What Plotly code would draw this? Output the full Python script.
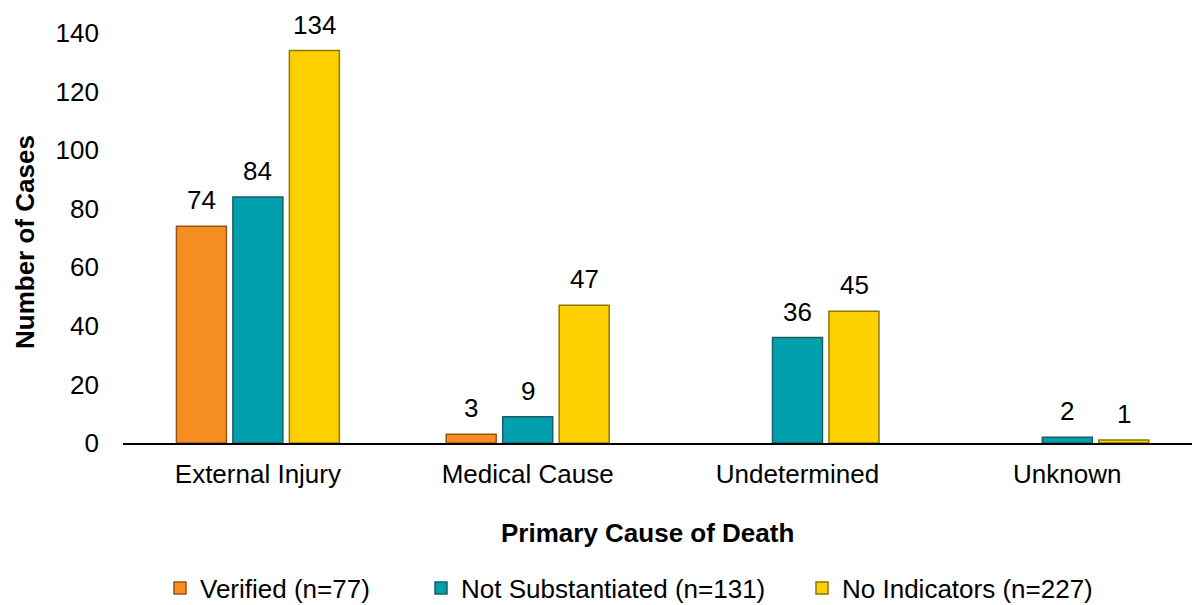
import plotly.graph_objects as go

categories = ["External Injury", "Medical Cause", "Undetermined", "Unknown"]
series_names = ["Verified (n=77)", "Not Substantiated (n=131)", "No Indicators (n=227)"]
verified = [74, 3, None, None]
not_substantiated = [84, 9, 36, 2]
no_indicators = [134, 47, 45, 1]
y_ticks = [0, 20, 40, 60, 80, 100, 120, 140]

series_values = [verified, not_substantiated, no_indicators]
fills = ["#F68D21", "#00A1AD", "#FFD000"]
lines = ["#9A5316", "#1D5C63", "#8C7A00"]

FONT = "Liberation Sans, Arial, sans-serif"
FS = 26

W, H = 1192, 605
ML, MR, MT, MB = 123, 0, 33, 162
cat_px = 269.8
plot_w = W - ML - MR
x_hi = -0.5 + plot_w / cat_px

fig = go.Figure()
for i, (name, vals) in enumerate(zip(series_names, series_values)):
    fig.add_trace(go.Bar(
        x=categories, y=vals, name=name,
        marker=dict(color=fills[i], line=dict(color=lines[i], width=1.5)),
        legend="legend" if i == 0 else f"legend{i+1}",
        cliponaxis=False,
    ))

# data labels above bars
slot_px = 56.5
annotations = []
for i, vals in enumerate(series_values):
    for cat, v in zip(categories, vals):
        if v is None:
            continue
        annotations.append(dict(
            x=cat, y=v, xref="x", yref="y", text=str(v), showarrow=False,
            xanchor="center", yanchor="bottom", xshift=(i - 1) * slot_px, yshift=9,
            font=dict(family=FONT, size=FS, color="#000000"),
        ))

plot_h = H - MT - MB
def px_x(px):
    return (px - ML) / plot_w
def px_y(py):
    return (H - MB - py) / plot_h

annotations.append(dict(
    text="<b>Primary Cause of Death</b>", x=px_x(647), y=px_y(533), xref="paper", yref="paper",
    showarrow=False, xanchor="center", yanchor="middle",
    font=dict(family=FONT, size=FS, color="#000000"),
))
annotations.append(dict(
    text="<b>Number of Cases</b>", x=px_x(25), y=px_y(242), xref="paper", yref="paper",
    showarrow=False, xanchor="center", yanchor="middle", textangle=-90,
    font=dict(family=FONT, size=FS, color="#000000"),
))

legend_common = dict(orientation="h", xanchor="left", yanchor="middle",
                     font=dict(family=FONT, size=FS, color="#000000"),
                     bgcolor="rgba(0,0,0,0)", itemwidth=30, yref="paper")
legend_left_px = [160, 421, 802]
legend_y_px = 588

fig.update_layout(
    width=W, height=H,
    margin=dict(l=ML, r=MR, t=MT, b=MB, pad=0, autoexpand=False),
    paper_bgcolor="white", plot_bgcolor="white",
    font=dict(family=FONT, size=FS, color="#000000"),
    barmode="group", bargap=0.372, bargroupgap=0.115,
    showlegend=True,
    legend=dict(x=px_x(legend_left_px[0]), y=px_y(legend_y_px), **legend_common),
    legend2=dict(x=px_x(legend_left_px[1]), y=px_y(legend_y_px), **legend_common),
    legend3=dict(x=px_x(legend_left_px[2]), y=px_y(legend_y_px), **legend_common),
    xaxis=dict(range=[-0.5, x_hi], showline=True, linecolor="#000000", linewidth=2,
               showgrid=False, ticks="", ticklabelstandoff=7, automargin=False,
               tickfont=dict(family=FONT, size=FS, color="#000000"), fixedrange=True),
    yaxis=dict(range=[0, 140], tickvals=y_ticks, showline=False, showgrid=False, zeroline=False,
               ticks="", ticklabelstandoff=23, automargin=False,
               tickfont=dict(family=FONT, size=FS, color="#000000"), fixedrange=True),
    annotations=annotations,
)

fig.write_html(
    "out.html",
    config={"displayModeBar": False},
    post_script="document.body.style.margin='0';document.body.style.overflow='hidden';",
)
